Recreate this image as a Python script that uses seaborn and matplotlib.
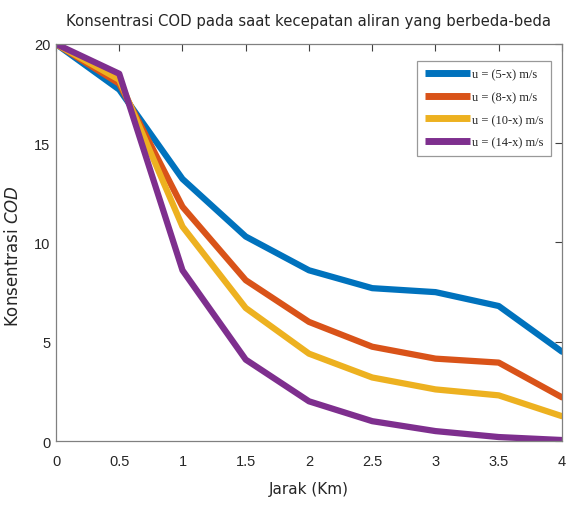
import numpy as np
import pandas as pd
import matplotlib
matplotlib.use("Agg")
import matplotlib.pyplot as plt
import seaborn as sns

jarak = [0, 0.5, 1, 1.5, 2, 2.5, 3, 3.5, 4]
cod_5 = [20, 17.7, 13.2, 10.3, 8.6, 7.7, 7.5, 6.8, 4.5]
cod_8 = [20, 18.0, 11.8, 8.1, 6.0, 4.75, 4.15, 3.95, 2.2]
cod_10 = [20, 18.2, 10.8, 6.7, 4.4, 3.2, 2.6, 2.3, 1.25]
cod_14 = [20, 18.5, 8.6, 4.1, 2.0, 1.0, 0.5, 0.2, 0.05]
labels = ["u = (5-x) m/s", "u = (8-x) m/s", "u = (10-x) m/s", "u = (14-x) m/s"]
colors = ["#0072BD", "#D95319", "#EDB120", "#7E2F8E"]

rows = []
for lab, vals in zip(labels, [cod_5, cod_8, cod_10, cod_14]):
    for x, v in zip(jarak, vals):
        rows.append({"Jarak": x, "COD": v, "Kecepatan": lab})
df = pd.DataFrame(rows)

sns.set_style("white")
plt.rcParams['font.family'] = ['DejaVu Sans']
plt.rcParams['mathtext.fontset'] = 'custom'
plt.rcParams['mathtext.it'] = 'DejaVu Sans:italic'
plt.rcParams['mathtext.rm'] = 'DejaVu Sans'

fig = plt.figure(figsize=(5.68, 5.10), dpi=100)
ax = fig.add_axes([0.0986, 0.1333, 0.8908, 0.7785])

sns.lineplot(data=df, x="Jarak", y="COD", hue="Kecepatan", palette=colors,
             linewidth=4.5, ax=ax, legend=True)

ax.set_xlim(0, 4)
ax.set_ylim(0, 20)
ax.set_xticks(jarak)
ax.set_xticklabels(["0", "0.5", "1", "1.5", "2", "2.5", "3", "3.5", "4"])
ax.set_yticks([0, 5, 10, 15, 20])
ax.tick_params(direction="in", length=5, width=0.8, colors="#404040",
               labelsize=10.5, top=True, right=True)
ax.tick_params(axis="x", pad=9)
ax.tick_params(axis="y", pad=4)
for lbl in ax.get_xticklabels() + ax.get_yticklabels():
    lbl.set_family(["Liberation Sans"])
    lbl.set_color("#262626")
for sp in ax.spines.values():
    sp.set_visible(True)
    sp.set_color("#808080")
    sp.set_linewidth(0.9)

ax.set_xlabel("Jarak (Km)", fontsize=11, labelpad=10)
ax.set_ylabel(r"Konsentrasi $\mathit{COD}$", fontsize=12)
ax.yaxis.set_label_coords(-0.068, 0.468)
ax.set_title("Konsentrasi COD pada saat kecepatan aliran yang berbeda-beda",
             fontsize=10.7, pad=14)

leg = ax.legend(loc="upper right", bbox_to_anchor=(0.978, 0.957),
                prop={"family": "Liberation Serif", "size": 9},
                frameon=True, fancybox=False, edgecolor="#808080",
                handlelength=3.6, handletextpad=0.15, borderpad=0.6,
                labelspacing=0.85, borderaxespad=0)
leg.get_frame().set_linewidth(0.9)
for h in leg.get_lines():
    h.set_linewidth(5)
    h.set_solid_capstyle("butt")

fig.savefig("out.png", dpi=100)
